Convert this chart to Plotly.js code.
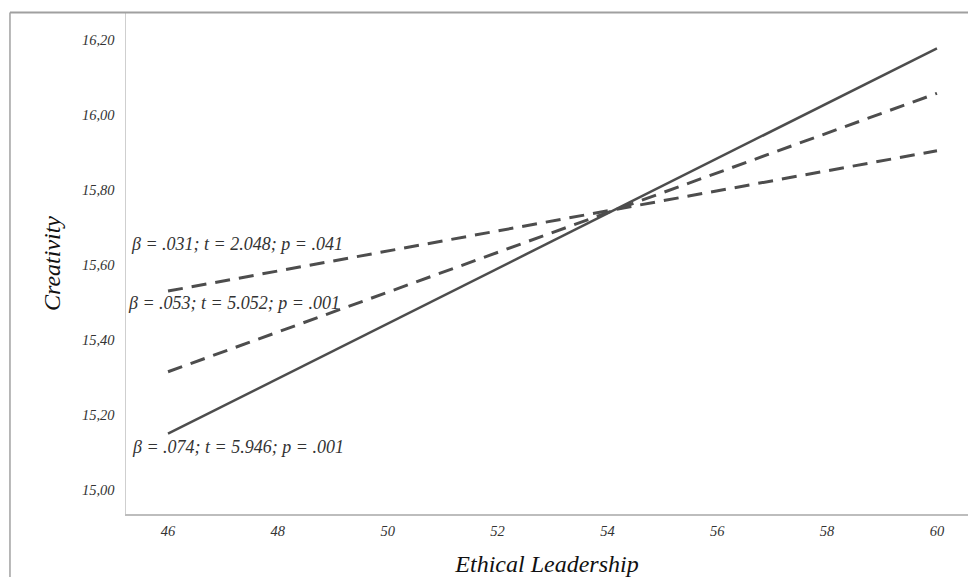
<!DOCTYPE html>
<html>
<head>
<meta charset="utf-8">
<script src="https://cdn.plot.ly/plotly-3.0.1.min.js"></script>
<style>html,body{margin:0;padding:0;background:#fff;}#chart{width:968px;height:577px;}</style>
</head>
<body>
<div id="chart"></div>
<script>
// Data
const xVals = [46, 60];
const lowLine = [15.531, 15.905];   // β = .031
const midLine = [15.316, 16.058];   // β = .053
const highLine = [15.151, 16.178];  // β = .074
const xTicks = [46, 48, 50, 52, 54, 56, 58, 60];
const yTicks = [15.00, 15.20, 15.40, 15.60, 15.80, 16.00, 16.20];
const labels = [
  {text: "β = .031; t = 2.048; p = .041", x: 45.29, y: 15.656},
  {text: "β = .053; t = 5.052; p = .001", x: 45.236, y: 15.499},
  {text: "β = .074; t = 5.946; p = .001", x: 45.31, y: 15.115}
];

const serif = '"Liberation Serif", "DejaVu Serif", serif';
const lineColor = '#4d4d4d';

const traces = [
  {x: xVals, y: lowLine, mode: 'lines', line: {color: lineColor, width: 3, dash: '15px,9px'}, hoverinfo: 'skip'},
  {x: xVals, y: midLine, mode: 'lines', line: {color: lineColor, width: 3, dash: '15px,9px'}, hoverinfo: 'skip'},
  {x: xVals, y: highLine, mode: 'lines', line: {color: lineColor, width: 2.5}, hoverinfo: 'skip'}
];

const layout = {
  width: 968, height: 577,
  margin: {l: 126, r: 0, t: 13, b: 63, pad: 0},
  paper_bgcolor: '#fff', plot_bgcolor: '#fff',
  showlegend: false,
  separators: ',.',
  font: {family: serif, color: '#222'},
  xaxis: {
    range: [45.235, 60.565], tickvals: xTicks, ticktext: xTicks.map(String),
    showgrid: false, zeroline: false, showline: true, linecolor: '#bdbdbd', linewidth: 1.5,
    ticks: '', ticklabelstandoff: 3,
    tickfont: {family: serif, size: 14.5, color: '#333', style: 'italic'},
    title: {text: 'Ethical Leadership', font: {family: serif, size: 24, color: '#111', style: 'italic'}, standoff: 19}
  },
  yaxis: {
    range: [14.937, 16.272], tickvals: yTicks, tickformat: '.2f',
    showgrid: false, zeroline: false, showline: true, linecolor: '#cfcfcf', linewidth: 1.5,
    ticks: '', ticklabelstandoff: 7,
    tickfont: {family: serif, size: 14.5, color: '#333', style: 'italic'},
    title: {text: 'Creativity', font: {family: serif, size: 24, color: '#111', style: 'italic'}, standoff: 14}
  },
  annotations: labels.map(l => ({
    text: l.text, x: l.x, y: l.y, xref: 'x', yref: 'y', xanchor: 'left', yanchor: 'middle',
    showarrow: false, font: {family: serif, size: 18, color: '#333', style: 'italic'}
  })),
  shapes: [
    {type: 'line', xref: 'paper', yref: 'paper', x0: -0.1378, x1: 1.01, y0: 1.001, y1: 1.001,
     line: {color: '#a0a0a0', width: 2}},
    {type: 'line', xref: 'paper', yref: 'paper', x0: -0.1378, x1: -0.1378, y0: 1.001, y1: -0.2,
     line: {color: '#a0a0a0', width: 1.5}}
  ]
};

Plotly.newPlot('chart', traces, layout, {displayModeBar: false, staticPlot: true});
</script>
</body>
</html>
